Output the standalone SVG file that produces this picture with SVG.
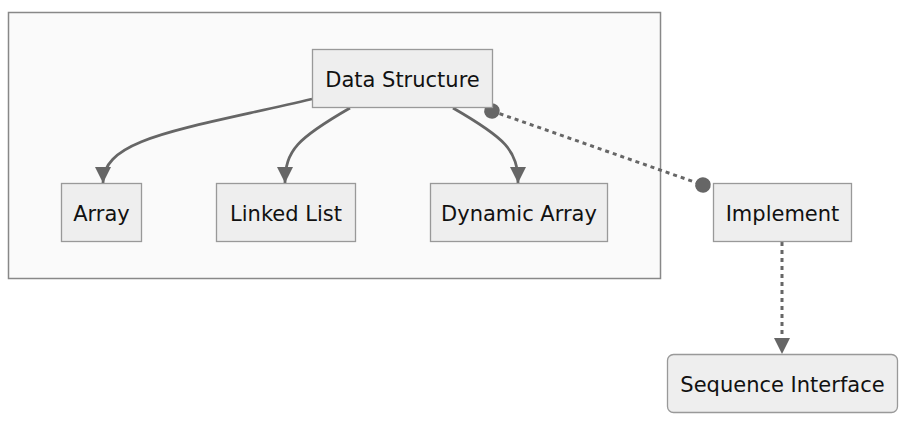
<svg xmlns="http://www.w3.org/2000/svg" width="913" height="428" viewBox="0 0 913 428">
<style>
.node rect{fill:#eeeeee;stroke:#999999;stroke-width:1.3}
.node text{font-family:"DejaVu Sans",sans-serif;font-size:21px;fill:#111;text-anchor:middle;dominant-baseline:central}
.edge{fill:none;stroke:#666666;stroke-width:2.8}
.dash{stroke-dasharray:4 4;stroke-width:3}
</style>
<defs>
<marker id="arrow" viewBox="0 0 16 16" refX="16" refY="8" markerWidth="16" markerHeight="16" markerUnits="userSpaceOnUse" orient="auto">
<path d="M0,0 L16,8 L0,16 Z" fill="#666666"/>
</marker>
<marker id="dot" viewBox="0 0 16 16" refX="8" refY="8" markerWidth="16" markerHeight="16" markerUnits="userSpaceOnUse" orient="auto">
<circle cx="8" cy="8" r="7.8" fill="#666666"/>
</marker>
</defs>
<rect width="913" height="428" fill="#ffffff"/>
<g id="cluster">
<rect x="8.5" y="12.5" width="652" height="266" fill="#fafafa" stroke="#888888" stroke-width="1.5"/>
</g>
<g id="edges">
<path class="edge" d="M312,99 C180,130 103,138 103,183" marker-end="url(#arrow)"/>
<path class="edge" d="M350,108 C298,138 285,150 285,183" marker-end="url(#arrow)"/>
<path class="edge" d="M453,108 C505,138 518,150 518,183" marker-end="url(#arrow)"/>
<path class="edge dash" d="M492,111 L703,185" marker-start="url(#dot)" marker-end="url(#dot)"/>
<path class="edge dash" d="M782,242 L782,354" marker-end="url(#arrow)"/>
</g>
<g id="n-datastructure" class="node">
<rect x="312.5" y="49.5" width="180" height="58"/>
<text x="402.5" y="79.5">Data Structure</text>
</g>
<g id="n-array" class="node">
<rect x="61.5" y="183.5" width="80" height="58"/>
<text x="101.5" y="213.5">Array</text>
</g>
<g id="n-linkedlist" class="node">
<rect x="216.5" y="183.5" width="139" height="58"/>
<text x="286" y="213.5">Linked List</text>
</g>
<g id="n-dynamicarray" class="node">
<rect x="430.5" y="183.5" width="177" height="58"/>
<text x="519" y="213.5">Dynamic Array</text>
</g>
<g id="n-implement" class="node">
<rect x="713.5" y="183.5" width="138" height="58"/>
<text x="782.5" y="213.5">Implement</text>
</g>
<g id="n-sequenceinterface" class="node">
<rect x="667.5" y="354.5" width="230" height="58" rx="6" ry="6"/>
<text x="782.5" y="384.5">Sequence Interface</text>
</g>
</svg>
